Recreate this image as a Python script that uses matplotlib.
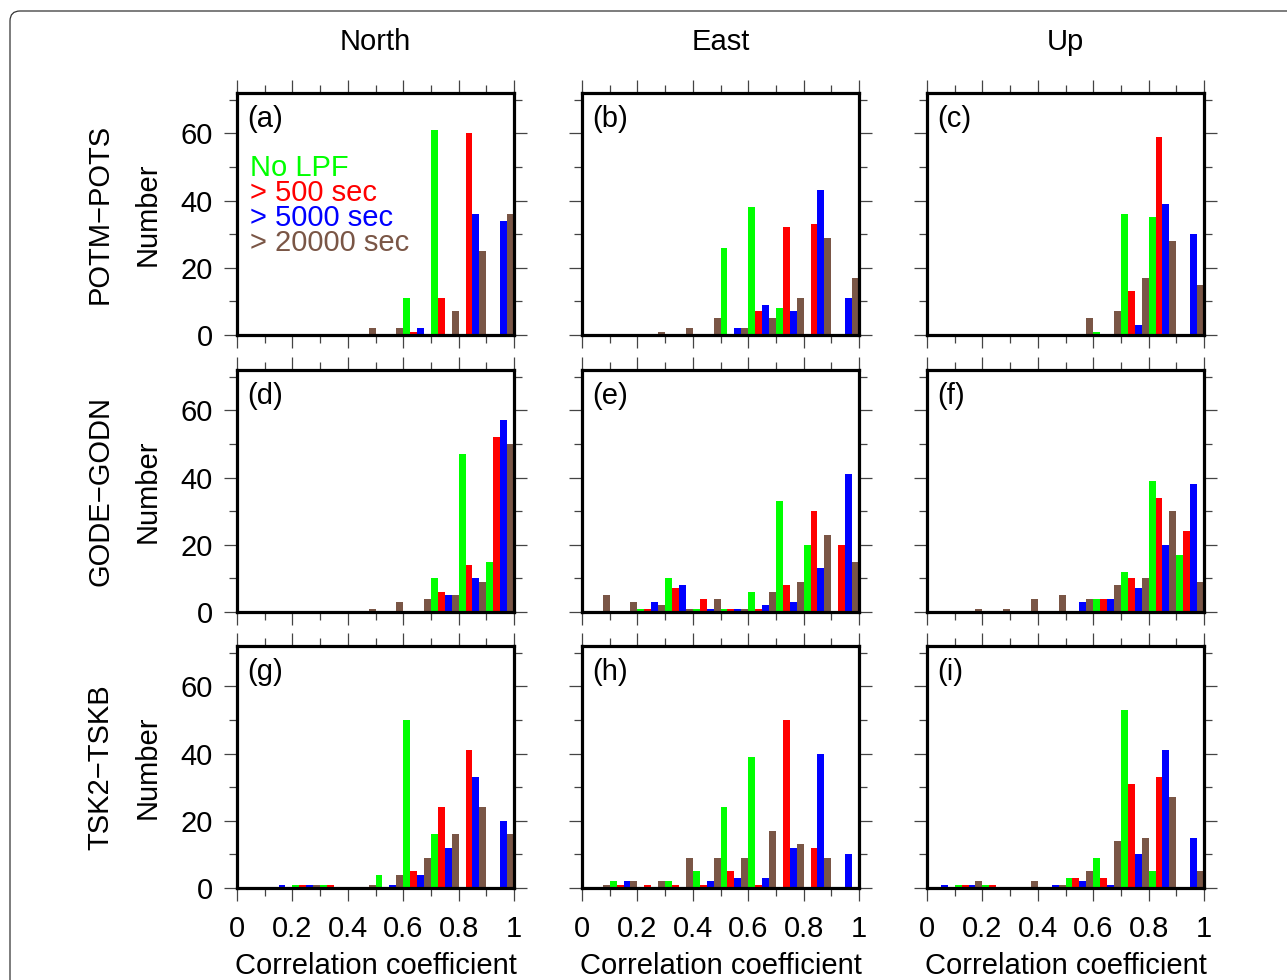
import matplotlib
matplotlib.use('Agg')
import matplotlib.pyplot as plt
import numpy as np
from matplotlib.patches import FancyBboxPatch
from matplotlib.transforms import IdentityTransform
from matplotlib.ticker import MultipleLocator, FuncFormatter

plt.rcParams['font.family'] = ['Liberation Sans', 'DejaVu Sans']

# histogram counts per 0.1 bin of correlation coefficient (0.0 .. 0.9)
# rows: No LPF, > 500 sec, > 5000 sec, > 20000 sec
bins = [0.0, 0.1, 0.2, 0.3, 0.4, 0.5, 0.6, 0.7, 0.8, 0.9]

potm_north = [[0, 0, 0, 0, 0, 0, 11, 61, 0, 0],
              [0, 0, 0, 0, 0, 0, 1, 11, 60, 0],
              [0, 0, 0, 0, 0, 0, 2, 0, 36, 34],
              [0, 0, 0, 0, 2, 2, 0, 7, 25, 36]]
potm_east = [[0, 0, 0, 0, 0, 26, 38, 8, 0, 0],
             [0, 0, 0, 0, 0, 0, 7, 32, 33, 0],
             [0, 0, 0, 0, 0, 2, 9, 7, 43, 11],
             [0, 0, 1, 2, 5, 2, 5, 11, 29, 17]]
potm_up = [[0, 0, 0, 0, 0, 0, 1, 36, 35, 0],
           [0, 0, 0, 0, 0, 0, 0, 13, 59, 0],
           [0, 0, 0, 0, 0, 0, 0, 3, 39, 30],
           [0, 0, 0, 0, 0, 5, 7, 17, 28, 15]]

gode_north = [[0, 0, 0, 0, 0, 0, 0, 10, 47, 15],
              [0, 0, 0, 0, 0, 0, 0, 6, 14, 52],
              [0, 0, 0, 0, 0, 0, 0, 5, 10, 57],
              [0, 0, 0, 0, 1, 3, 4, 5, 9, 50]]
gode_east = [[0, 0, 1, 10, 1, 1, 6, 33, 20, 0],
             [0, 0, 1, 7, 4, 1, 1, 8, 30, 20],
             [0, 0, 3, 8, 1, 1, 2, 3, 13, 41],
             [5, 3, 2, 1, 4, 1, 6, 9, 23, 15]]
gode_up = [[0, 0, 0, 0, 0, 0, 4, 12, 39, 17],
           [0, 0, 0, 0, 0, 0, 4, 10, 34, 24],
           [0, 0, 0, 0, 0, 3, 4, 7, 20, 38],
           [0, 1, 1, 4, 5, 4, 8, 10, 30, 9]]

tsk_north = [[0, 0, 1, 1, 0, 4, 50, 16, 0, 0],
             [0, 0, 1, 1, 0, 0, 5, 24, 41, 0],
             [0, 1, 1, 0, 0, 1, 4, 12, 33, 20],
             [0, 0, 1, 0, 1, 4, 9, 16, 24, 16]]
tsk_east = [[0, 2, 0, 2, 5, 24, 39, 0, 0, 0],
            [0, 1, 1, 1, 1, 5, 1, 50, 12, 0],
            [0, 2, 0, 0, 2, 3, 3, 12, 40, 10],
            [1, 2, 2, 9, 9, 9, 17, 13, 9, 0]]
tsk_up = [[0, 1, 1, 0, 0, 3, 9, 53, 5, 0],
          [0, 1, 1, 0, 0, 3, 3, 31, 33, 0],
          [1, 1, 0, 0, 1, 2, 1, 10, 41, 15],
          [0, 2, 0, 2, 1, 5, 14, 15, 27, 5]]

filters = ['No LPF', '> 500 sec', '> 5000 sec', '> 20000 sec']
colors = ['#00ff00', '#ff0000', '#0000ff', '#7a5646']
components = ['North', 'East', 'Up']
pairs = ['POTM\u2212POTS', 'GODE\u2212GODN', 'TSK2\u2212TSKB']
letters = ['a', 'b', 'c', 'd', 'e', 'f', 'g', 'h', 'i']
panels = [[potm_north, potm_east, potm_up],
          [gode_north, gode_east, gode_up],
          [tsk_north, tsk_east, tsk_up]]

W, H = 1287, 980
fig = plt.figure(figsize=(W / 100, H / 100), dpi=100)

# rounded page frame
frame = FancyBboxPatch((10, -40), 1320, H - 11 + 40,
                       boxstyle='round,pad=0,rounding_size=10',
                       transform=IdentityTransform(), fill=False,
                       edgecolor='#333333', linewidth=0.9)
fig.add_artist(frame)

col_left = [237, 582, 927]
row_top = [93, 370, 646]
ax_w, ax_h = 277, 242
fs = 21
bw = 0.025


def fmt(v, pos):
    if abs(v - round(v)) < 1e-9:
        return '%d' % round(v)
    return '%.1f' % v


for r in range(3):
    for c in range(3):
        x0 = col_left[c] / W
        y0 = 1 - (row_top[r] + ax_h) / H
        ax = fig.add_axes([x0, y0, ax_w / W, ax_h / H])
        data = panels[r][c]
        for k in range(4):
            ax.bar(np.array(bins) + k * bw, data[k], width=bw, align='edge',
                   color=colors[k], linewidth=0)
        ax.set_xlim(0, 1)
        ax.set_ylim(0, 72)
        for s in ax.spines.values():
            s.set_linewidth(2.3)
        ax.xaxis.set_major_locator(MultipleLocator(0.2))
        ax.xaxis.set_minor_locator(MultipleLocator(0.1))
        ax.yaxis.set_major_locator(MultipleLocator(20))
        ax.yaxis.set_minor_locator(MultipleLocator(10))
        ax.xaxis.set_major_formatter(FuncFormatter(fmt))
        ax.tick_params(which='both', direction='out', top=True, right=True,
                       width=0.9, color='#444444', labelsize=fs)
        ax.tick_params(which='major', length=9.5)
        ax.tick_params(which='minor', length=5.5)
        ax.tick_params(axis='x', pad=10)
        ax.tick_params(axis='y', pad=8)
        if c != 0:
            ax.tick_params(axis='y', labelleft=False)
        if r != 2:
            ax.tick_params(axis='x', labelbottom=False)
        ax.text(0.036, 0.893, '(%s)' % letters[r * 3 + c], transform=ax.transAxes,
                fontsize=fs, ha='left', va='center')
        if r == 0 and c == 0:
            for k, lab in enumerate(filters):
                ax.text(0.047, 0.69 - k * 0.103, lab, color=colors[k],
                        transform=ax.transAxes, fontsize=fs, ha='left', va='center')

# column titles, row labels and axis labels
for c, name in enumerate(components):
    cx = (col_left[c] + ax_w / 2) / W
    fig.text(cx, 1 - 42 / H, name, fontsize=fs, ha='center', va='center')
    fig.text(cx, 1 - 966 / H, 'Correlation coefficient', fontsize=fs,
             ha='center', va='center')
for r, name in enumerate(pairs):
    cy = 1 - (row_top[r] + ax_h / 2) / H
    fig.text(100 / W, cy, name, fontsize=fs, rotation=90, ha='center', va='center')
    fig.text(148 / W, cy, 'Number', fontsize=fs, rotation=90, ha='center', va='center')

fig.savefig('out.png', dpi=100)
